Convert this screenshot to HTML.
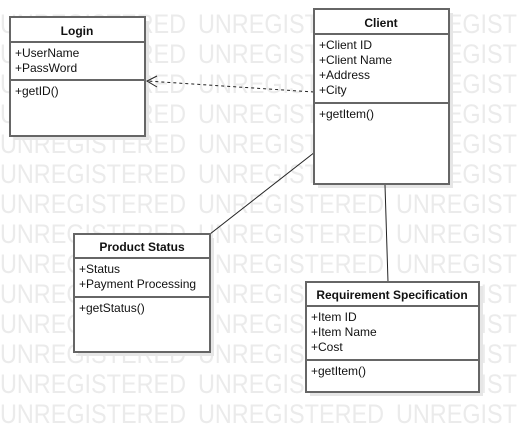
<!DOCTYPE html>
<html><head><style>
html,body{margin:0;padding:0;background:#fff;}
svg{display:block}
.t{font-family:"Liberation Sans",sans-serif;font-size:12px;fill:#111}
.b{font-weight:bold}
.w{font-family:"Liberation Sans",sans-serif;font-size:27px;fill:#ebebeb}
</style></head><body>
<svg width="518" height="433" xmlns="http://www.w3.org/2000/svg">
<defs>
<g id="row">
<text class="w" x="0" y="0" textLength="186" lengthAdjust="spacingAndGlyphs">UNREGISTERED</text>
<text class="w" x="198" y="0" textLength="186" lengthAdjust="spacingAndGlyphs">UNREGISTERED</text>
<text class="w" x="396" y="0" textLength="186" lengthAdjust="spacingAndGlyphs">UNREGISTERED</text>
</g>
</defs>
<use href="#row" x="0" y="33"/>
<use href="#row" x="0" y="63"/>
<use href="#row" x="0" y="93"/>
<use href="#row" x="0" y="123"/>
<use href="#row" x="0" y="153"/>
<use href="#row" x="0" y="183"/>
<use href="#row" x="0" y="213"/>
<use href="#row" x="0" y="243"/>
<use href="#row" x="0" y="273"/>
<use href="#row" x="0" y="303"/>
<use href="#row" x="0" y="333"/>
<use href="#row" x="0" y="363"/>
<use href="#row" x="0" y="393"/>
<use href="#row" x="0" y="423"/>
<!-- shadows -->
<g fill="#e6e6e6">
<rect x="14" y="21" width="135" height="119"/>
<rect x="318" y="13" width="135" height="175"/>
<rect x="78" y="238" width="136" height="118"/>
<rect x="310" y="286" width="173" height="110"/>
</g>
<!-- connectors -->
<line x1="314" y1="92" x2="147" y2="81" stroke="#222" stroke-dasharray="3,3"/>
<polyline points="157,76 147,81 157,87" fill="none" stroke="#222"/>
<line x1="315" y1="152" x2="210" y2="234" stroke="#222"/>
<line x1="385" y1="185" x2="388" y2="282" stroke="#222"/>
<g stroke="#666" stroke-width="2" fill="#fff">
<rect x="10" y="17" width="135" height="119"/>
<rect x="314" y="9" width="135" height="175"/>
<rect x="74" y="234" width="136" height="118"/>
<rect x="306" y="282" width="173" height="110"/>
</g>
<g stroke="#666" stroke-width="2">
<line x1="10" y1="42" x2="145" y2="42"/><line x1="10" y1="80" x2="145" y2="80"/>
<line x1="314" y1="34" x2="449" y2="34"/><line x1="314" y1="103" x2="449" y2="103"/>
<line x1="74" y1="258" x2="210" y2="258"/><line x1="74" y1="297" x2="210" y2="297"/>
<line x1="306" y1="306" x2="479" y2="306"/><line x1="306" y1="360" x2="479" y2="360"/>
</g>
<text class="t b" x="77" y="35" text-anchor="middle">Login</text>
<text class="t" x="15" y="57">+UserName</text>
<text class="t" x="15" y="72">+PassWord</text>
<text class="t" x="15" y="95">+getID()</text>

<text class="t b" x="381" y="27" text-anchor="middle">Client</text>
<text class="t" x="319" y="49">+Client ID</text>
<text class="t" x="319" y="64">+Client Name</text>
<text class="t" x="319" y="79">+Address</text>
<text class="t" x="319" y="94">+City</text>
<text class="t" x="319" y="118">+getItem()</text>

<text class="t b" x="142" y="251" text-anchor="middle">Product Status</text>
<text class="t" x="79" y="273">+Status</text>
<text class="t" x="79" y="288">+Payment Processing</text>
<text class="t" x="79" y="312">+getStatus()</text>

<text class="t b" x="392" y="299" text-anchor="middle">Requirement Specification</text>
<text class="t" x="311" y="321">+Item ID</text>
<text class="t" x="311" y="336">+Item Name</text>
<text class="t" x="311" y="351">+Cost</text>
<text class="t" x="311" y="375">+getItem()</text>
</svg>
</body></html>
